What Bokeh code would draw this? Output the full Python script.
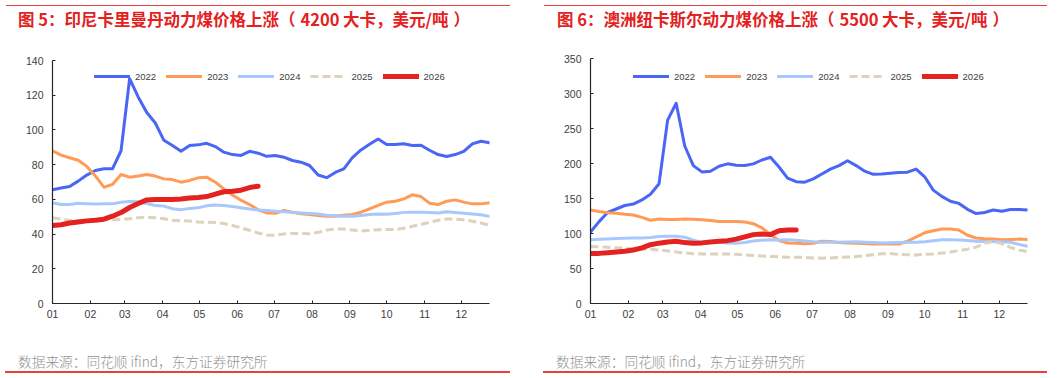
from bokeh.plotting import figure
from bokeh.layouts import row, column
from bokeh.models import Range1d, FixedTicker, Legend, LegendItem, Div
from bokeh.embed import file_html
from bokeh.resources import INLINE

# ---- shared calendar axis (day of year) ----
month_start_days = [0, 31, 59, 90, 120, 151, 181, 212, 243, 273, 304, 334]
month_labels = ["01", "02", "03", "04", "05", "06",
                "07", "08", "09", "10", "11", "12"]
# weekly observation dates, day of year
week_days = [0, 7, 14, 21, 28, 35, 42, 49, 56, 63, 70, 77, 84, 91, 98, 105,
             112, 119, 126, 133, 140, 147, 154, 161, 168, 175, 182, 189, 196,
             203, 210, 217, 224, 231, 238, 245, 252, 259, 266, 273, 280, 287,
             294, 301, 308, 315, 322, 329, 336, 343, 350, 357]
years = ["2022", "2023", "2024", "2025", "2026"]

# ---- Indonesia Kalimantan 4200 kcal, USD/t ----
kal_2022 = [65.5, 66.5, 67.4, 70.5, 74.0, 76.6, 77.6, 77.6, 88.0, 129.5,
            119.0, 110.0, 104.0, 94.0, 91.0, 87.7, 91.0, 91.4, 92.3, 90.4,
            87.2, 85.8, 85.3, 87.7, 86.6, 84.8, 85.3, 84.3, 82.4, 81.4,
            79.5, 74.0, 72.5, 75.5, 77.6, 84.0, 88.5, 91.8, 94.8, 91.6,
            91.6, 92.0, 91.0, 91.2, 88.3, 85.8, 84.7, 85.8, 87.7, 92.0,
            93.5, 92.6]
kal_2023 = [88.0, 85.5, 84.0, 82.5, 79.0, 73.5, 67.0, 68.6, 74.3, 72.8,
            73.4, 74.3, 73.4, 71.8, 71.4, 69.9, 70.9, 72.4, 72.8, 69.9,
            66.0, 62.5, 59.5, 57.0, 54.0, 52.2, 52.0, 53.6, 52.6, 51.7,
            51.2, 50.7, 50.3, 50.3, 50.8, 51.3, 52.6, 54.5, 56.5, 58.4,
            58.9, 60.3, 62.6, 61.6, 57.8, 57.0, 58.9, 59.7, 58.4, 57.4,
            57.4, 58.0]
kal_2024 = [58.0, 57.0, 57.0, 57.8, 57.5, 57.3, 57.4, 57.4, 58.3, 58.8,
            58.6, 57.6, 56.4, 56.1, 54.6, 54.0, 54.8, 55.1, 56.3, 56.8,
            56.4, 55.9, 55.2, 54.4, 53.9, 53.6, 53.2, 52.9, 52.5, 52.2,
            51.9, 51.5, 50.9, 50.6, 50.2, 50.2, 50.7, 51.3, 51.6, 51.4,
            51.9, 52.5, 52.6, 52.6, 52.4, 52.2, 52.8, 52.4, 52.0, 51.5,
            51.1, 50.2]
kal_2025 = [49.4, 48.6, 47.9, 47.8, 47.8, 48.0, 48.2, 48.2, 48.4, 48.8,
            49.4, 49.7, 49.4, 48.8, 48.0, 47.7, 47.5, 47.0, 46.8, 46.6,
            46.1, 44.9, 43.6, 42.2, 40.6, 39.5, 39.3, 40.0, 40.4, 40.4,
            40.2, 41.0, 42.4, 42.9, 42.9, 42.3, 41.8, 42.2, 42.5, 42.6,
            42.6, 43.4, 44.5, 45.6, 46.7, 48.0, 48.7, 48.6, 48.2, 47.4,
            46.4, 45.0]
kal_2026 = [44.9, 45.4, 46.4, 47.0, 47.6, 48.0, 48.6, 50.3, 52.4, 55.3,
            57.6, 59.7, 59.9, 59.9, 59.9, 60.2, 60.8, 61.1, 61.6, 63.0,
            64.4, 64.7, 65.3, 66.8, 67.6]

# ---- Australia Newcastle 5500 kcal, USD/t ----
nc_2022 = [102.0, 117.0, 130.0, 135.0, 140.0, 142.0, 148.0, 156.0, 171.0, 262.0,
           286.0, 225.0, 197.0, 188.0, 189.0, 196.0, 199.5, 197.5, 197.2, 199.5,
           205.0, 209.0, 195.0, 179.0, 174.0, 173.3, 178.0, 185.0, 192.0, 197.0,
           204.0, 197.0, 189.0, 184.5, 185.0, 186.0, 187.0, 187.6, 192.0, 181.0,
           162.0, 153.0, 146.0, 143.0, 134.5, 128.5, 130.0, 133.5, 131.8, 134.2,
           134.2, 133.7]
nc_2023 = [133.7, 131.3, 129.7, 129.0, 127.5, 126.4, 123.0, 119.0, 120.6, 120.0,
           119.9, 120.6, 120.5, 119.5, 118.5, 117.3, 117.0, 117.3, 116.4, 114.0,
           108.0, 98.5, 90.0, 86.4, 86.0, 85.4, 86.0, 89.0, 88.5, 87.0,
           86.3, 86.0, 85.6, 85.1, 85.0, 85.0, 85.0, 89.0, 95.0, 101.0,
           104.0, 106.3, 106.5, 105.0, 97.5, 93.5, 92.4, 92.0, 91.2, 91.5,
           92.0, 91.5]
nc_2024 = [91.2, 91.7, 92.2, 92.8, 93.1, 93.4, 93.6, 94.3, 95.6, 96.0,
           96.0, 94.8, 90.5, 87.6, 87.4, 87.4, 86.5, 86.2, 87.2, 89.3,
           90.5, 91.2, 90.8, 91.0, 90.4, 89.3, 88.3, 87.6, 87.4, 87.5,
           88.0, 88.2, 87.6, 87.0, 86.5, 86.8, 87.2, 87.4, 87.6, 88.2,
           89.5, 91.0, 91.0, 90.8, 90.0, 89.0, 88.6, 88.5, 88.2, 87.4,
           84.5, 81.8]
nc_2025 = [81.6, 81.0, 80.3, 79.8, 79.3, 78.0, 77.2, 77.6, 76.5, 75.0,
           73.5, 72.3, 71.2, 70.7, 70.7, 70.7, 70.7, 70.2, 69.5, 68.7,
           68.0, 67.2, 66.6, 66.0, 65.9, 65.9, 65.0, 64.7, 65.0, 65.8,
           66.3, 67.0, 68.5, 69.7, 71.0, 71.3, 70.0, 69.5, 69.4, 70.2,
           70.8, 72.0, 73.5, 75.5, 77.6, 80.5, 86.0, 88.5, 85.5, 80.0,
           76.5, 74.0]
nc_2026 = [71.6, 71.6, 72.6, 73.5, 74.6, 76.5, 79.5, 84.0, 86.2, 87.9,
           88.8, 87.0, 86.2, 86.6, 88.0, 88.9, 89.8, 92.0, 95.2, 98.4,
           99.3, 98.4, 104.0, 105.1, 105.1]

kal_title = "图 5：印尼卡里曼丹动力煤价格上涨（4200 大卡，美元/吨）"
nc_title = "图 6：澳洲纽卡斯尔动力煤价格上涨（5500 大卡，美元/吨）"
source_note = "数据来源：同花顺 ifind，东方证券研究所"

LINE_STYLES = [
    dict(line_color="#4A66F5", line_width=3),
    dict(line_color="#FF9B57", line_width=3),
    dict(line_color="#A8C8FC", line_width=3),
    dict(line_color="#DDD2BA", line_width=3, line_dash="8 4"),
    dict(line_color="#E42320", line_width=5),
]

RED = "#E3211E"
RULE_RED = "#E8413C"
TICK_FONT = "Liberation Sans"
CJK_FONT = "Noto Sans CJK SC"

HEADER_H = 35
FOOTER_H = 43
FIG_H = 378 - HEADER_H - FOOTER_H
FRAME_BOTTOM = 303 - HEADER_H   # frame bottom inside the figure


def title_markup(title):
    # a little breathing room inside the full-width brackets
    return (title
            .replace("（", '<span style="margin-right:0.3em;">（</span>')
            .replace("）", '<span style="margin-left:0.3em;">）</span>'))


def header(width, title, title_x, rule_x0, rule_x1):
    html = (
        f'<div style="position:relative;width:{width}px;height:{HEADER_H}px;">'
        f'<div style="position:absolute;left:{rule_x0}px;top:5px;'
        f'width:{rule_x1 - rule_x0}px;height:1px;background:{RULE_RED};"></div>'
        f'<div style="position:absolute;left:{title_x}px;top:9px;'
        f"font-family:'{CJK_FONT}';font-weight:bold;font-size:16.5px;"
        f'line-height:21px;color:{RED};white-space:nowrap;">'
        f'{title_markup(title)}</div>'
        '</div>')
    return Div(text=html, width=width, height=HEADER_H, margin=0)


def footer(width, note_x, rule_x0, rule_x1):
    html = (
        f'<div style="position:relative;width:{width}px;height:{FOOTER_H}px;">'
        f'<div style="position:absolute;left:{note_x}px;top:17px;'
        f"font-family:'{CJK_FONT}';font-weight:300;font-size:13.7px;"
        f'line-height:18px;color:#939393;white-space:nowrap;">{source_note}</div>'
        f'<div style="position:absolute;left:{rule_x0}px;top:36px;'
        f'width:{rule_x1 - rule_x0}px;height:2px;background:{RULE_RED};"></div>'
        '</div>')
    return Div(text=html, width=width, height=FOOTER_H, margin=0)


def chart(width, left, right, frame_top, y_max, y_step, series, legend_x):
    p = figure(width=width, height=FIG_H, output_backend="svg",
               toolbar_location=None, min_border_left=left,
               min_border_right=right, min_border_top=frame_top - HEADER_H,
               min_border_bottom=FIG_H - FRAME_BOTTOM,
               x_range=Range1d(0, 357), y_range=Range1d(0, y_max))
    p.background_fill_color = "white"
    p.border_fill_color = "white"
    p.outline_line_color = None
    p.xgrid.visible = False
    p.ygrid.visible = False

    p.xaxis.ticker = FixedTicker(ticks=month_start_days)
    p.xaxis.major_label_overrides = dict(zip(month_start_days, month_labels))
    p.yaxis.ticker = FixedTicker(ticks=list(range(0, y_max + 1, y_step)))
    for ax in (p.xaxis, p.yaxis):
        ax.axis_line_color = "#262626"
        ax.axis_line_width = 1.2
        ax.major_tick_line_color = "#262626"
        ax.major_tick_in = 3
        ax.major_tick_out = 0
        ax.minor_tick_line_color = None
        ax.major_label_text_font = TICK_FONT
        ax.major_label_text_font_size = "10.5px"
        ax.major_label_text_color = "#404040"
    p.xaxis.major_label_standoff = 6
    p.yaxis.major_label_standoff = 9

    items = []
    for year, vals, style in zip(years, series, LINE_STYLES):
        cap = "butt" if "line_dash" in style else "round"
        r = p.line(week_days[:len(vals)], vals, line_join="round",
                   line_cap=cap, **style)
        items.append(LegendItem(label=year, renderers=[r]))

    legend = Legend(items=items, orientation="horizontal",
                    location=(legend_x, 221), padding=0, margin=0,
                    spacing=10, glyph_width=36, glyph_height=12,
                    label_height=12, label_standoff=5,
                    label_text_font=TICK_FONT, label_text_font_size="9.5px",
                    label_text_color="#404040",
                    border_line_color=None, background_fill_alpha=0)
    p.add_layout(legend)
    return p


left_chart = chart(530, 52, 41, 60, 140, 20,
                   [kal_2022, kal_2023, kal_2024, kal_2025, kal_2026], 42)
right_chart = chart(531, 60, 34, 58, 350, 50,
                    [nc_2022, nc_2023, nc_2024, nc_2025, nc_2026], 43)

left_col = column(header(530, kal_title, 18, 6, 510), left_chart,
                  footer(530, 18, 5, 510), spacing=0)
right_col = column(header(531, nc_title, 27, 14, 517), right_chart,
                   footer(531, 26, 13, 517), spacing=0)

layout = row(left_col, right_col, spacing=0)
open("out.html", "w").write(file_html(layout, INLINE))
